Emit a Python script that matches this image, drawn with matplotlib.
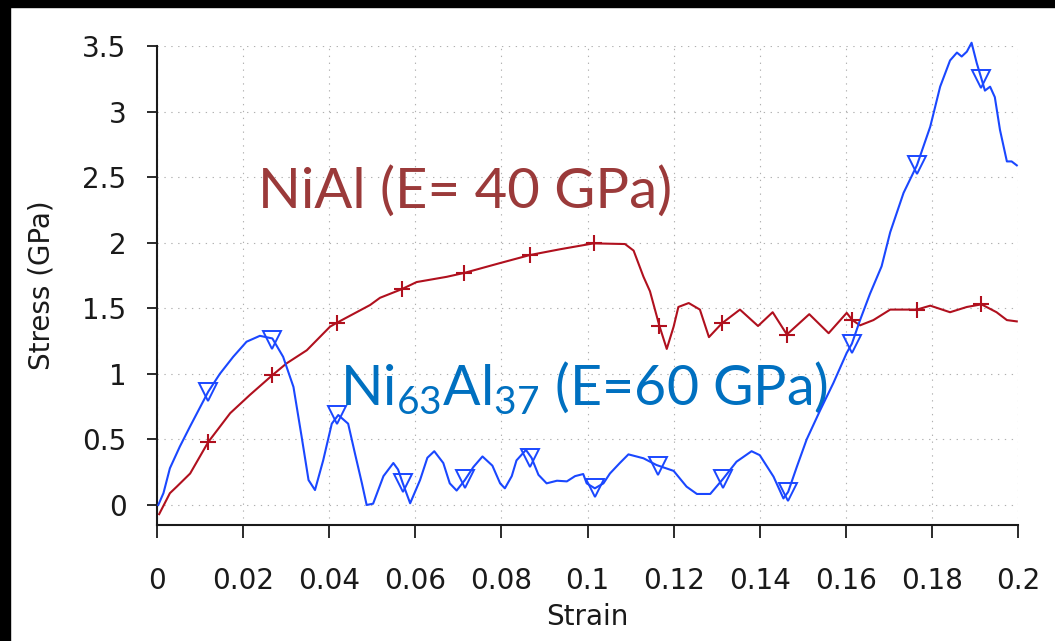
import matplotlib
matplotlib.use("Agg")
import matplotlib.pyplot as plt
from matplotlib.patches import Rectangle

# NiAl curve (strain, stress in GPa)
nial_strain = [0.0005, 0.003, 0.0046, 0.0077, 0.0119, 0.017, 0.0216, 0.0268, 0.0301, 0.0348,
               0.0402, 0.0418, 0.0495, 0.0518, 0.0568, 0.0603, 0.0673, 0.0714, 0.0797, 0.0866,
               0.0936, 0.1014, 0.1087, 0.1107, 0.113, 0.1145, 0.1167, 0.1184, 0.12, 0.1211,
               0.1235, 0.1261, 0.1282, 0.1312, 0.1354, 0.1396, 0.143, 0.1463, 0.1515, 0.156,
               0.1602, 0.1615, 0.1633, 0.1664, 0.1703, 0.1765, 0.1796, 0.1842, 0.1881, 0.1915,
               0.195, 0.1974, 0.1997]
nial_stress = [-0.07, 0.09, 0.14, 0.24, 0.48, 0.70, 0.84, 0.99, 1.08, 1.18,
               1.36, 1.39, 1.525, 1.58, 1.645, 1.70, 1.74, 1.77, 1.845, 1.906,
               1.95, 1.995, 1.99, 1.94, 1.74, 1.63, 1.365, 1.19, 1.36, 1.51,
               1.54, 1.49, 1.28, 1.385, 1.49, 1.365, 1.47, 1.30, 1.455, 1.31,
               1.465, 1.41, 1.37, 1.41, 1.49, 1.49, 1.52, 1.47, 1.51, 1.53,
               1.47, 1.41, 1.40]
nial_mark_strain = [0.0119, 0.0268, 0.0418, 0.0568, 0.0714, 0.0866, 0.1014, 0.1167, 0.1312,
                    0.1463, 0.1615, 0.1765, 0.1915]
nial_mark_stress = [0.48, 0.99, 1.39, 1.645, 1.77, 1.906, 1.995, 1.365, 1.385,
                    1.30, 1.41, 1.49, 1.53]

# Ni63Al37 curve
ni63_strain = [0.0003, 0.0015, 0.003, 0.0053, 0.0077, 0.0119, 0.0146, 0.0177, 0.0208, 0.0239,
               0.0268, 0.0293, 0.0317, 0.0336, 0.0352, 0.0367, 0.0386, 0.0406, 0.0421, 0.0444,
               0.046, 0.0476, 0.0487, 0.0502, 0.0526, 0.0549, 0.056, 0.0571, 0.0588, 0.0611,
               0.0628, 0.0644, 0.0665, 0.068, 0.0696, 0.0715, 0.0735, 0.0756, 0.0779, 0.0797,
               0.0808, 0.0824, 0.0835, 0.0857, 0.087, 0.0886, 0.0905, 0.0929, 0.0952, 0.0971,
               0.099, 0.0998, 0.1017, 0.1037, 0.1052, 0.1075, 0.1095, 0.113, 0.116, 0.12,
               0.123, 0.1254, 0.1285, 0.1315, 0.1346, 0.1381, 0.14, 0.1432, 0.1455, 0.1466,
               0.1486, 0.1509, 0.154, 0.1571, 0.1602, 0.1614, 0.1633, 0.1656, 0.1683, 0.1703,
               0.1734, 0.1765, 0.1796, 0.1819, 0.1842, 0.1858, 0.1869, 0.1881, 0.1892, 0.1904,
               0.1915, 0.1923, 0.1935, 0.1946, 0.1958, 0.1974, 0.1985, 0.1997]
ni63_stress = [0.0, 0.09, 0.28, 0.445, 0.60, 0.864, 1.00, 1.13, 1.245, 1.29,
               1.27, 1.13, 0.90, 0.52, 0.19, 0.114, 0.34, 0.62, 0.686, 0.62,
               0.39, 0.165, 0.0, 0.01, 0.22, 0.32, 0.27, 0.165, 0.013, 0.19,
               0.36, 0.41, 0.32, 0.165, 0.11, 0.19, 0.29, 0.37, 0.30, 0.165,
               0.127, 0.22, 0.34, 0.42, 0.36, 0.23, 0.165, 0.185, 0.18, 0.22,
               0.236, 0.165, 0.127, 0.165, 0.24, 0.32, 0.386, 0.356, 0.305, 0.26,
               0.14, 0.084, 0.084, 0.20, 0.33, 0.41, 0.38, 0.216, 0.05, 0.10,
               0.29, 0.50, 0.72, 0.93, 1.16, 1.23, 1.41, 1.61, 1.82, 2.08,
               2.38, 2.59, 2.885, 3.19, 3.39, 3.45, 3.42, 3.457, 3.525, 3.37,
               3.25, 3.16, 3.19, 3.11, 2.86, 2.62, 2.62, 2.59]
ni63_mark_strain = [0.0119, 0.0268, 0.0419, 0.0571, 0.0715, 0.0867, 0.1017, 0.1163, 0.1315,
                    0.1465, 0.1614, 0.1765, 0.1915]
ni63_mark_stress = [0.864, 1.26, 0.686, 0.165, 0.195, 0.36, 0.13, 0.30, 0.20,
                    0.10, 1.23, 2.59, 3.25]

xticks = [0, 0.02, 0.04, 0.06, 0.08, 0.1, 0.12, 0.14, 0.16, 0.18, 0.2]
xtick_labels = ["0", "0.02", "0.04", "0.06", "0.08", "0.1", "0.12", "0.14", "0.16", "0.18", "0.2"]
yticks = [0, 0.5, 1, 1.5, 2, 2.5, 3, 3.5]
ytick_labels = ["0", "0.5", "1", "1.5", "2", "2.5", "3", "3.5"]

red = "#b0101e"
blue = "#1a47ff"

plt.rcParams["font.family"] = "DejaVu Sans"
plt.rcParams["mathtext.fontset"] = "custom"
plt.rcParams["mathtext.rm"] = "Lato"

fig = plt.figure(figsize=(10.55, 6.41), dpi=100)
ax = fig.add_axes([0.1488, 0.181, 0.8162, 0.7472])

ax.plot(nial_strain, nial_stress, color=red, lw=1.5, clip_on=False, zorder=3)
ax.plot(nial_mark_strain, nial_mark_stress, "+", color=red, ms=12, mew=1.5, zorder=4)
ax.plot(ni63_strain, ni63_stress, color=blue, lw=1.5, clip_on=False, zorder=3)
ax.plot(ni63_mark_strain, ni63_mark_stress, "v", color=blue, mfc="none", ms=13, mew=1.4,
        clip_on=False, zorder=4)

ax.set_xlim(0, 0.2)
ax.set_ylim(-0.1525, 3.5)
ax.set_xticks(xticks)
ax.set_xticklabels(xtick_labels)
ax.set_yticks(yticks)
ax.set_yticklabels(ytick_labels)
ax.tick_params(axis="x", direction="out", length=9, width=1.3, pad=21, labelsize=20, colors="#1a1a1a")
ax.tick_params(axis="y", direction="out", length=7, width=1.3, pad=15, labelsize=20, colors="#1a1a1a")
for side in ["top", "right"]:
    ax.spines[side].set_visible(False)
for side in ["left", "bottom"]:
    ax.spines[side].set_linewidth(1.5)
    ax.spines[side].set_color("#1a1a1a")
ax.grid(True, color="#b0b0b0", lw=0.8, linestyle=(0, (1.2, 5)))

ax.set_xlabel("Strain", fontsize=20, color="#1a1a1a")
ax.set_ylabel("Stress (GPa)", fontsize=20, color="#1a1a1a")
ax.xaxis.set_label_coords(0.5, -0.163)
ax.yaxis.set_label_coords(-0.118, 0.5)

# white text box behind the NiAl label (hides the grid there)
ax.add_patch(Rectangle((0.0193, 2.08), 0.1045, 0.78, facecolor="white", edgecolor="none",
                       zorder=1.5))
ax.text(0.0235, 2.27, "NiAl (E= 40 GPa)", color="#9b3a3a", fontsize=40.5, family="Lato",
        ha="left", va="baseline", zorder=2)
ax.text(0.0425, 0.76, r"Ni$_\mathregular{63}$Al$_\mathregular{37}$ (E=60 GPa)", color="#0070c0",
        fontsize=40, family="Lato", ha="left", va="baseline", zorder=2)

# black frame edges of the original screenshot
fig.patches.append(Rectangle((0, 1 - 7 / 641), 1, 7 / 641, transform=fig.transFigure,
                             color="black", zorder=10))
fig.patches.append(Rectangle((0, 0), 10 / 1055, 1, transform=fig.transFigure,
                             color="black", zorder=10))

fig.savefig("out.png", dpi=100)
